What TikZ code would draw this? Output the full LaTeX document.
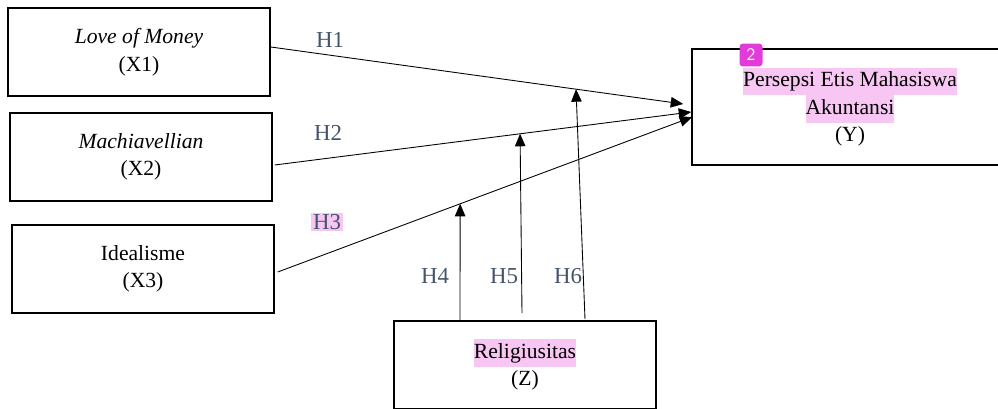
\documentclass[tikz,border=0pt]{standalone}
\usepackage{fontspec}
\setmainfont{Liberation Serif}[ItalicFont={Liberation Serif Italic}]
\usetikzlibrary{arrows.meta,calc}
\definecolor{hlpink}{HTML}{F7C6F3}
\definecolor{badgepink}{HTML}{E23BD9}
\definecolor{hcol}{HTML}{44546A}
\newcommand{\hilite}[1]{{\setlength{\fboxsep}{0pt}\colorbox{hlpink}{\strut #1}}}
\begin{document}
\begin{tikzpicture}[x=0.02cm,y=-0.02cm,
    font=\fontsize{12.3pt}{15.6pt}\selectfont,
    var/.style={draw,line width=0.9pt,minimum width=5.24cm,minimum height=1.76cm,align=center},
    hyp/.style={text=hcol,font=\fontsize{13pt}{15pt}\selectfont},
    arr/.style={-{Triangle[length=0.25cm,width=0.21cm]},line width=0.5pt}]
      \useasboundingbox (0,0) rectangle (998,409);
      \clip (0,0) rectangle (998,409);
      \draw
        (139,52) node[var] (x1){\textit{Love of Money}\\(X1)}
        (141,157) node[var] (x2){\textit{Machiavellian}\\(X2)}
        (143,269) node[var] (x3){Idealisme\\(X3)}
        (850,107) node[var,minimum width=6.32cm,minimum height=2.32cm] (y){\hilite{Persepsi Etis Mahasiswa}\\\hilite{Akuntansi}\\(Y)}
        (525,365) node[var] (z){\hilite{Religiusitas}\\(Z)};
      \node[fill=badgepink,rounded corners=2pt,minimum size=0.46cm,inner sep=0pt,text=white,font=\sffamily] (badge) at (751,55) {2};
      \begin{scope}[arr]
        \draw ($(x1.east)+(0,-5)$) -- coordinate[pos=0.74] (h6) ($(y.west)+(-8,-3)$);
        \draw ($(x2.east)+(2,8)$) -- coordinate[pos=0.589] (h5) ($(y.west)+(0,5)$);
        \draw ($(x3.east)+(3,3)$) -- coordinate[pos=0.44] (h4) ($(y.west)+(1,10)$);
        \draw ($(z.north)+(-65,0)$) -- (h4);
        \draw ($(z.north)+(-3,-7)$) -- (h5);
        \draw ($(z.north)+(60,-1)$) -- (h6);
      \end{scope}
      \node[hyp] (l1) at (330,40) {H1};
      \node[hyp] (l2) at (328,133) {H2};
      \node[hyp,fill=hlpink,inner sep=1pt] (l3) at (327,222) {H3};
      \node[hyp] (l4) at (435,276) {H4};
      \node[hyp] (l5) at (504,276) {H5};
      \node[hyp] (l6) at (568,276) {H6};
    \end{tikzpicture}
\end{document}
